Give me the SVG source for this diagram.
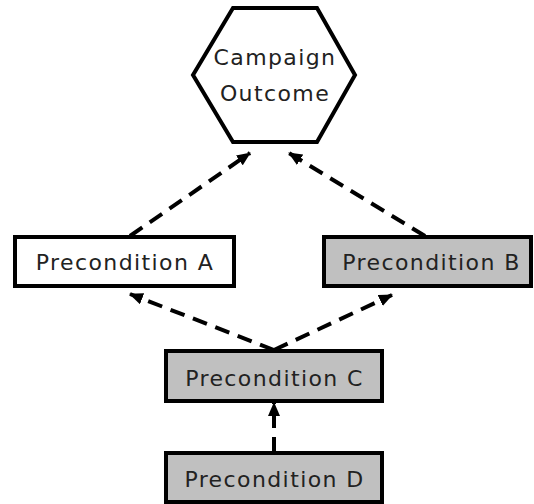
<svg xmlns="http://www.w3.org/2000/svg" width="534" height="504" viewBox="0 0 534 504">
  <defs>
    <marker id="arrow" markerUnits="userSpaceOnUse" markerWidth="14" markerHeight="12" refX="13" refY="6" orient="auto">
      <path d="M0,0 L14,6 L0,12 z" fill="#000"/>
    </marker>
    <style>
      .box { stroke: #000; stroke-width: 4; }
      .plain { fill: #fff; }
      .shaded { fill: #c0c0c0; }
      .label { font-family: "DejaVu Sans", Verdana, sans-serif; font-size: 22px; letter-spacing: 1.4px; fill: #222; text-anchor: middle; }
      .link { stroke: #000; stroke-width: 4; stroke-dasharray: 15 9; fill: none; marker-end: url(#arrow); }
    </style>
  </defs>
  <rect width="534" height="504" fill="#fff"/>

  <g id="connectors">
    <line class="link" x1="130" y1="236" x2="250" y2="153"/>
    <line class="link" x1="425" y1="236" x2="289" y2="153"/>
    <line class="link" x1="274" y1="350" x2="130" y2="294"/>
    <line class="link" x1="274" y1="350" x2="392" y2="295"/>
    <line class="link" x1="274" y1="452" x2="274" y2="403"/>
  </g>

  <g id="outcome">
    <polygon class="box plain" points="233,8 317,8 355,75 317,142 233,142 193,75"/>
    <text class="label" x="275" y="65">Campaign</text>
    <text class="label" x="275" y="101">Outcome</text>
  </g>

  <g id="precondition-a">
    <rect class="box plain" x="15" y="237" width="219" height="49"/>
    <text class="label" x="125" y="270">Precondition A</text>
  </g>

  <g id="precondition-b">
    <rect class="box shaded" x="324" y="237" width="207" height="49"/>
    <text class="label" x="431.5" y="270">Precondition B</text>
  </g>

  <g id="precondition-c">
    <rect class="box shaded" x="166" y="351" width="216" height="50"/>
    <text class="label" x="274.5" y="386">Precondition C</text>
  </g>

  <g id="precondition-d">
    <rect class="box shaded" x="166" y="453" width="216" height="49"/>
    <text class="label" x="274.5" y="487">Precondition D</text>
  </g>
</svg>
